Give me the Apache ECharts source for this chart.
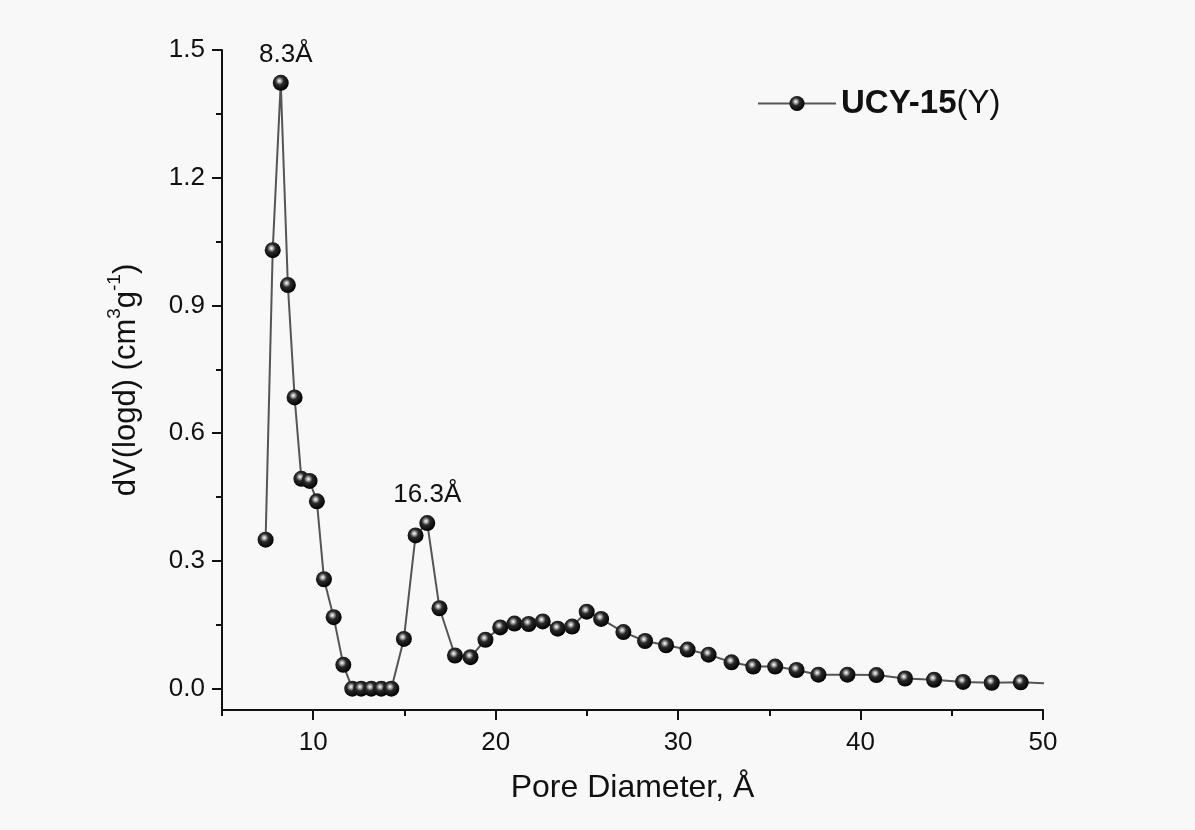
<!DOCTYPE html>
<html>
<head>
<meta charset="utf-8">
<script src="https://cdn.jsdelivr.net/npm/echarts@6/dist/echarts.min.js"></script>
<style>
html,body{margin:0;padding:0;background:#f8f8f8;}
#chart{width:1195px;height:830px;}
</style>
</head>
<body>
<div id="chart"></div>
<script>
// ---- data ----
const poreDiameter = [7.39, 7.78, 8.22, 8.61, 8.98, 9.35, 9.80, 10.20, 10.59, 11.12, 11.65,
  12.14, 12.63, 13.18, 13.73, 14.28, 14.97, 15.61, 16.25, 16.92, 17.77, 18.62, 19.44,
  20.25, 21.03, 21.81, 22.58, 23.40, 24.19, 24.99, 25.78, 27.00, 28.19, 29.34, 30.52,
  31.67, 32.93, 34.12, 35.32, 36.49, 37.69, 39.28, 40.87, 42.44, 44.03, 45.62, 47.19,
  48.78, 50.40];
const dVlogd = [0.350, 1.030, 1.423, 0.948, 0.684, 0.493, 0.488, 0.440, 0.257, 0.168, 0.056,
  0, 0, 0, 0, 0, 0.117, 0.360, 0.389, 0.189, 0.078, 0.074, 0.115,
  0.144, 0.153, 0.152, 0.158, 0.141, 0.146, 0.181, 0.164, 0.133, 0.112, 0.102, 0.092,
  0.080, 0.062, 0.052, 0.052, 0.044, 0.033, 0.033, 0.032, 0.024, 0.021, 0.016, 0.014,
  0.015, 0.012];
const peakIndex = [2, 18];
const peakText = ['8.3Å', '16.3Å'];
const xMajorTicks = [10, 20, 30, 40, 50];
const xMinorTicks = [5, 15, 25, 35, 45];
const yMajorTicks = [0, 0.3, 0.6, 0.9, 1.2, 1.5];
const yMinorTicks = [0.15, 0.45, 0.75, 1.05, 1.35];
const seriesName = 'UCY-15(Y)';
const xTitle = 'Pore Diameter, Å';

// ---- styling ----
const FONT = "'Liberation Sans', Arial, sans-serif";
const sphere = {
  type: 'radial', x: 0.42, y: 0.38, r: 0.62,
  colorStops: [
    {offset: 0, color: '#ffffff'},
    {offset: 0.16, color: '#b5b5b5'},
    {offset: 0.42, color: '#2a2a2a'},
    {offset: 1, color: '#000000'}
  ]
};
const labelOffsets = [[5, 0], [0, 0]];

const seriesData = poreDiameter.map((x, i) => {
  const item = {value: [x, dVlogd[i]]};
  const k = peakIndex.indexOf(i);
  if (k >= 0) {
    item.label = {
      show: true, formatter: peakText[k], position: 'top', distance: 7,
      offset: labelOffsets[k], fontSize: 26, color: '#111', fontFamily: FONT
    };
  }
  return item;
});

const chart = echarts.init(document.getElementById('chart'));
chart.setOption({
  backgroundColor: '#f8f8f8',
  animation: false,
  grid: {left: 222, right: 152, top: 50, bottom: 120, outerBoundsMode: 'none'},
  legend: {
    data: [seriesName],
    left: 752, top: 82,
    itemWidth: 78, itemHeight: 19,
    formatter: () => '{b|UCY-15}{n|(Y)}',
    textStyle: {
      fontFamily: FONT, color: '#111',
      rich: {
        b: {fontSize: 33, fontWeight: 'bold', fontFamily: FONT, color: '#111'},
        n: {fontSize: 33, fontFamily: FONT, color: '#111'}
      }
    }
  },
  xAxis: [{
    type: 'value', min: 5, max: 50,
    name: xTitle, nameLocation: 'middle', nameGap: 62,
    nameTextStyle: {fontSize: 32, fontFamily: FONT, color: '#111'},
    axisLine: {show: true, onZero: false, lineStyle: {color: '#111', width: 2}},
    axisTick: {show: true, inside: false, length: 10, customValues: xMajorTicks, lineStyle: {color: '#111', width: 2}},
    axisLabel: {customValues: xMajorTicks, fontSize: 26, fontFamily: FONT, color: '#111', margin: 20},
    splitLine: {show: false}
  }, {
    type: 'value', min: 5, max: 50, position: 'bottom', offset: 0,
    axisLine: {show: false, onZero: false},
    axisTick: {show: true, length: 6, customValues: xMinorTicks, lineStyle: {color: '#111', width: 2}},
    axisLabel: {show: false},
    splitLine: {show: false}
  }],
  yAxis: [{
    type: 'value', min: -0.05, max: 1.5,
    name: '{a|dV(logd) (cm}{s|3}{a|g}{s|-1}{a|)}',
    nameLocation: 'middle', nameRotate: 90, nameGap: 80,
    nameTextStyle: {
      fontSize: 31, fontFamily: FONT, color: '#111',
      rich: {
        a: {fontSize: 31, fontFamily: FONT, color: '#111', lineHeight: 37, verticalAlign: 'bottom'},
        s: {fontSize: 19, fontFamily: FONT, color: '#111', lineHeight: 19, verticalAlign: 'top'}
      }
    },
    axisLine: {show: true, onZero: false, lineStyle: {color: '#111', width: 2}},
    axisTick: {show: true, length: 10, customValues: yMajorTicks, lineStyle: {color: '#111', width: 2}},
    axisLabel: {customValues: yMajorTicks, fontSize: 26, fontFamily: FONT, color: '#111', margin: 17,
      formatter: v => v.toFixed(1)},
    splitLine: {show: false}
  }, {
    type: 'value', min: -0.05, max: 1.5, position: 'left', offset: 0,
    axisLine: {show: false, onZero: false},
    axisTick: {show: true, length: 6, customValues: yMinorTicks, lineStyle: {color: '#111', width: 2}},
    axisLabel: {show: false},
    splitLine: {show: false}
  }],
  series: [{
    name: seriesName,
    type: 'line',
    xAxisIndex: 0, yAxisIndex: 0,
    data: seriesData,
    clip: true,
    symbol: 'circle',
    symbolSize: 16,
    showAllSymbol: true,
    lineStyle: {color: '#555555', width: 2},
    itemStyle: {color: sphere, borderWidth: 0},
    emphasis: {disabled: true}
  }]
});
</script>
</body>
</html>
